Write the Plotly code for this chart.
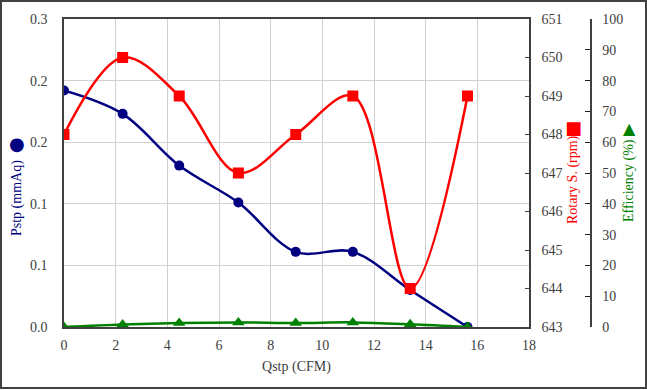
import plotly.graph_objects as go

# Data
qstp = [0.0, 2.27, 4.46, 6.75, 8.97, 11.18, 13.4, 15.62]
pstp = [0.192, 0.173, 0.131, 0.101, 0.061, 0.061, 0.030, 0.0]
rotary = [648, 650, 649, 647, 648, 649, 644, 649]
efficiency = [0.0, 0.8, 1.3, 1.5, 1.3, 1.5, 0.9, 0.0]

left_vals = [0, 0.05, 0.10, 0.15, 0.20, 0.25]
left_text = ["0.0", "0.1", "0.1", "0.2", "0.2", "0.3"]

W, H = 647, 390
ML, MR, MT, MB = 64, 40, 19, 63
PW, PH = W - ML - MR, H - MT - MB
XDOM = 465 / PW

def px(x):
    return (x - ML) / PW

def py(y):
    return (H - MB - y) / PH

FONT = "Liberation Serif"
TICKC = "#404040"
GRID = "#d0d0d0"

fig = go.Figure()
fig.add_trace(go.Scatter(x=qstp, y=pstp, mode="lines+markers", yaxis="y",
                         line=dict(color="#000080", width=2.5, shape="spline"),
                         marker=dict(symbol="circle", size=10, color="#000080"),
                         showlegend=False))
fig.add_trace(go.Scatter(x=qstp, y=rotary, mode="lines+markers", yaxis="y2",
                         line=dict(color="#FF0000", width=2.5, shape="spline"),
                         marker=dict(symbol="square", size=11, color="#FF0000"),
                         showlegend=False))
fig.add_trace(go.Scatter(x=qstp, y=efficiency, mode="lines+markers", yaxis="y3",
                         line=dict(color="#008000", width=2.5, shape="spline"),
                         marker=dict(symbol="triangle-up", size=11, color="#008000"),
                         showlegend=False))

def ann(text, x, y, color, size, family, angle=0):
    return dict(text=text, textangle=angle, x=px(x), y=py(y), xref="paper", yref="paper",
                xanchor="center", yanchor="middle", showarrow=False,
                font=dict(color=color, size=size, family=family))

fig.update_layout(
    width=W, height=H,
    margin=dict(l=ML, r=MR, t=MT, b=MB, pad=0, autoexpand=False),
    paper_bgcolor="white", plot_bgcolor="white",
    font=dict(family=FONT, size=14, color=TICKC),
    xaxis=dict(domain=[0, XDOM], range=[0, 18], tickvals=list(range(0, 19, 2)),
               showgrid=True, gridcolor=GRID, gridwidth=1, automargin=False,
               showline=True, linecolor="#404040", linewidth=1.5, mirror=True,
               ticks="", zeroline=False, ticklabelstandoff=4,
               title=dict(text="Qstp (CFM)", font=dict(size=14, color=TICKC, family=FONT), standoff=10)),
    yaxis=dict(range=[0, 0.25], tickvals=left_vals, ticktext=left_text,
               showgrid=True, gridcolor=GRID, gridwidth=1, automargin=False,
               showline=True, linecolor="#404040", linewidth=1.5,
               ticks="", zeroline=False, ticklabelstandoff=12),
    yaxis2=dict(range=[643, 651], dtick=1, overlaying="y", side="right", anchor="x",
                showgrid=False, showline=True, linecolor="#404040", linewidth=1.5,
                ticks="inside", ticklen=4, tickcolor="#404040", zeroline=False,
                ticklabelstandoff=8, automargin=False),
    yaxis3=dict(range=[0, 100], dtick=10, overlaying="y", side="right", anchor="free",
                position=px(590.7), showgrid=False, showline=True, automargin=False,
                linecolor="#404040", linewidth=1.5, ticks="inside", ticklen=5,
                tickcolor="#202020", zeroline=False, ticklabelstandoff=8),
    annotations=[
        ann("Pstp (mmAq)", 17, 198, "#000080", 14, FONT, -90),
        ann("●", 17, 143, "#000080", 18, "DejaVu Sans"),
        ann("Rotary S. (rpm)", 573, 180, "#FF0000", 14, FONT, -90),
        ann("■", 573, 127, "#FF0000", 18, "DejaVu Sans"),
        ann("Efficiency (%)", 629, 181, "#008000", 14, FONT, -90),
        ann("▲", 629, 128, "#008000", 16, "DejaVu Sans"),
    ],
    shapes=[dict(type="rect", xref="paper", yref="paper",
                 x0=px(1), x1=px(646), y0=py(388), y1=py(1),
                 line=dict(color="#404040", width=2), layer="above")],
)

fig.write_html("out.html", config={"displayModeBar": False},
               post_script="document.body.style.margin='0';")
